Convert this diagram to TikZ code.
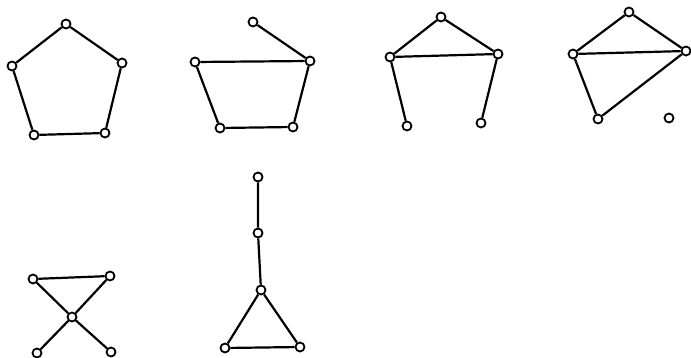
\documentclass[tikz,border=0pt]{standalone}
\usetikzlibrary{positioning}

\begin{document}
\begin{tikzpicture}[
  x=1pt, y=-1pt,
  % Define vertex style
  vertex/.style={
    draw,
    circle,
    fill=white,
    line width=1.8pt,
    minimum size=9pt,
    inner sep=0pt
  },
  % Edge style
  edge/.style={
    line width=2.2pt
  }
]
\useasboundingbox (0,0) rectangle (691,358);

% -----------------------------------------------
% GRAPH 1: PENTAGON
% -----------------------------------------------
\node[vertex] (aTop) at (66,24) {};
\node[vertex] (aLeft) at (12,66) {};
\node[vertex] (aRight) at (122,63) {};
\node[vertex] (aBotL) at (34,135) {};
\node[vertex] (aBotR) at (105,133) {};

% -----------------------------------------------
% GRAPH 2: QUADRILATERAL WITH PENDANT
% -----------------------------------------------
\node[vertex] (bPend) at (253,22) {};
\node[vertex] (bLeft) at (195,62) {};
\node[vertex] (bRight) at (310,61) {};
\node[vertex] (bBotL) at (220,128) {};
\node[vertex] (bBotR) at (293,127) {};

% -----------------------------------------------
% GRAPH 3: TRIANGLE WITH TWO LEGS
% -----------------------------------------------
\node[vertex] (cTop) at (441,17) {};
\node[vertex] (cLeft) at (390,57) {};
\node[vertex] (cRight) at (498,54) {};
\node[vertex] (cBotL) at (407,126) {};
\node[vertex] (cBotR) at (481,123) {};

% -----------------------------------------------
% GRAPH 4: TWO TRIANGLES AND AN ISOLATED VERTEX
% -----------------------------------------------
\node[vertex] (dTop) at (629,12) {};
\node[vertex] (dLeft) at (573,54) {};
\node[vertex] (dRight) at (686,51) {};
\node[vertex] (dBot) at (598,119) {};
\node[vertex] (dIso) at (669,118) {};

% -----------------------------------------------
% GRAPH 5: BOWTIE
% -----------------------------------------------
\node[vertex] (eTopL) at (33,279) {};
\node[vertex] (eTopR) at (110,276) {};
\node[vertex] (eMid) at (72,317) {};
\node[vertex] (eBotL) at (37,353) {};
\node[vertex] (eBotR) at (111,352) {};

% -----------------------------------------------
% GRAPH 6: TRIANGLE WITH A TAIL
% -----------------------------------------------
\node[vertex] (fTop) at (258,177) {};
\node[vertex] (fMid) at (258,233) {};
\node[vertex] (fTri) at (261,290) {};
\node[vertex] (fBotL) at (225,348) {};
\node[vertex] (fBotR) at (300,347) {};

% -----------------------------------------------
% EDGES
% -----------------------------------------------
\draw[edge] (aTop) -- (aRight) -- (aBotR) -- (aBotL) -- (aLeft) -- (aTop);

\draw[edge] (bPend) -- (bRight);
\draw[edge] (bLeft) -- (bRight) -- (bBotR) -- (bBotL) -- (bLeft);

\draw[edge] (cTop) -- (cRight) -- (cLeft) -- (cTop);
\draw[edge] (cLeft) -- (cBotL);
\draw[edge] (cRight) -- (cBotR);

\draw[edge] (dTop) -- (dRight) -- (dLeft) -- (dTop);
\draw[edge] (dLeft) -- (dBot) -- (dRight);

\draw[edge] (eTopL) -- (eTopR) -- (eMid) -- (eTopL);
\draw[edge] (eMid) -- (eBotL);
\draw[edge] (eMid) -- (eBotR);

\draw[edge] (fTop) -- (fMid) -- (fTri);
\draw[edge] (fTri) -- (fBotL) -- (fBotR) -- (fTri);

\end{tikzpicture}
\end{document}
